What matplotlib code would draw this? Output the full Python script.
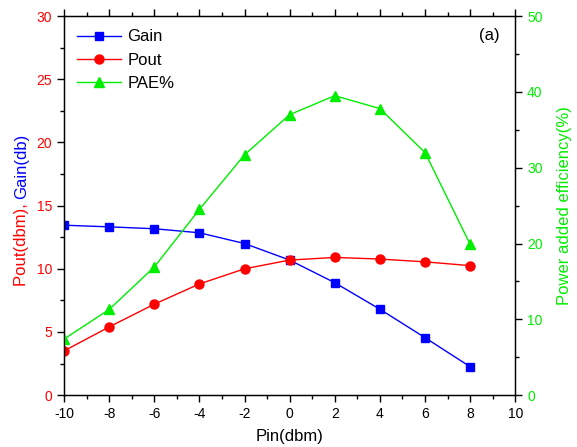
import numpy as np
import matplotlib
matplotlib.use("Agg")
import matplotlib.pyplot as plt
from matplotlib.ticker import MultipleLocator

plt.rcParams['font.family'] = ['Liberation Sans', 'DejaVu Sans']
plt.rcParams['axes.unicode_minus'] = False

pin = [-10, -8, -6, -4, -2, 0, 2, 4, 6, 8]
gain = [13.45, 13.32, 13.17, 12.85, 12.0, 10.69, 8.9, 6.8, 4.55, 2.25]
pout = [3.5, 5.4, 7.2, 8.8, 10.0, 10.69, 10.9, 10.77, 10.55, 10.25]
pae = [7.4, 11.3, 16.9, 24.5, 31.7, 37.0, 39.5, 37.8, 32.0, 19.9]

green = '#00ee00'

fig = plt.figure(figsize=(5.77, 4.47), dpi=100)
ax = fig.add_axes([0.111, 0.116, 0.782, 0.848])
ax2 = ax.twinx()

l1, = ax.plot(pin, gain, '-s', color='blue', lw=1, ms=6, label='Gain')
l2, = ax.plot(pin, pout, '-o', color='red', lw=1, ms=6.5, label='Pout')
l3, = ax2.plot(pin, pae, '-^', color=green, lw=1, ms=7, label='PAE%')

ax.set_xlim(-10, 10)
ax.set_ylim(0, 30)
ax2.set_ylim(0, 50)
ax.xaxis.set_major_locator(MultipleLocator(2))
ax.xaxis.set_minor_locator(MultipleLocator(1))
ax.yaxis.set_major_locator(MultipleLocator(5))
ax.yaxis.set_minor_locator(MultipleLocator(2.5))
ax2.yaxis.set_major_locator(MultipleLocator(10))
ax2.yaxis.set_minor_locator(MultipleLocator(5))

ax.tick_params(axis='both', which='major', labelsize=10, length=5, width=1, direction='out')
ax.tick_params(axis='both', which='minor', length=3, width=1, direction='out')
ax.tick_params(axis='x', which='both', top=True, labeltop=False)
ax.tick_params(axis='y', labelcolor='red')
ax2.tick_params(axis='y', which='major', labelsize=10, length=5, width=1, labelcolor=green)
ax2.tick_params(axis='y', which='minor', length=3, width=1)
for sp in ax.spines.values():
    sp.set_linewidth(1)

ax.set_xlabel('Pin(dbm)', fontsize=12, labelpad=6)
ax2.set_ylabel('Power added efficiency(%)', fontsize=12, color=green, labelpad=10)

# two-coloured left label
t1 = fig.text(0.037, 0.36, 'Pout(dbm), ', rotation=90, color='red', fontsize=12,
              ha='center', va='bottom')
fig.canvas.draw()
bb = t1.get_window_extent()
y2 = bb.y1 / fig.bbox.height
fig.text(0.037, y2, 'Gain(db)', rotation=90, color='blue', fontsize=12,
         ha='center', va='bottom')

ax.text(0.965, 0.95, '(a)', transform=ax.transAxes, fontsize=12, ha='right', va='center')

ax.legend(handles=[l1, l2, l3], loc='upper left', frameon=False, fontsize=12,
          handlelength=2.6, handletextpad=0.4, borderaxespad=0.4, labelspacing=0.5)

fig.savefig('out.png', dpi=100)
